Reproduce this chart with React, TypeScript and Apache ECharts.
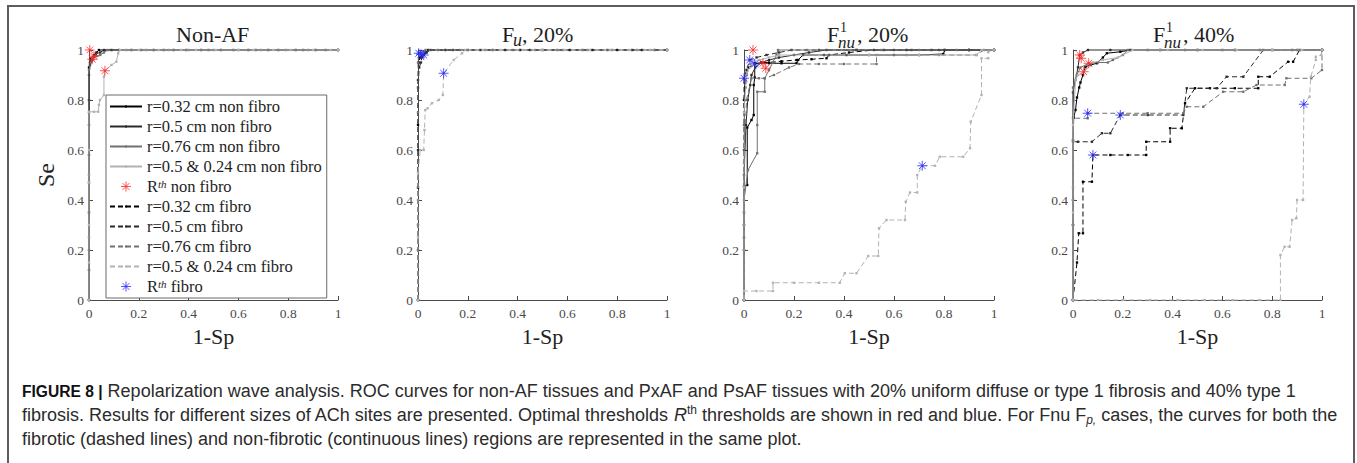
import React, { useEffect, useRef } from 'react';
import * as echarts from 'echarts';

const SERIF = "'Liberation Serif', 'Times New Roman', serif";
const SANS = "'Liberation Sans', Arial, sans-serif";

// ---------- names & colours ----------
const seriesNames = [
  'r=0.32 cm non fibro',
  'r=0.5 cm non fibro',
  'r=0.76 cm non fibro',
  'r=0.5 & 0.24 cm non fibro',
  'Rth non fibro',
  'r=0.32 cm fibro',
  'r=0.5 cm fibro',
  'r=0.76 cm fibro',
  'r=0.5 & 0.24 cm fibro',
  'Rth fibro',
];
const curveColors = ['#000000', '#2a2a2a', '#707070', '#b2b2b2'];
const axisTicks = [0, 0.2, 0.4, 0.6, 0.8, 1];

// ---------- Panel 1: Non-AF ----------
const p1_nf032 = [[0,0],[0,0.12],[0,0.35],[0,0.58],[0,0.8],[0,0.93],[0.004,0.95],[0.008,0.965],[0.016,0.97],[0.022,0.98],[0.03,0.99],[0.04,1],[0.09,1],[0.17,1],[0.26,1],[0.34,1],[0.45,1],[0.53,1],[0.64,1],[0.72,1],[0.83,1],[0.91,1],[1,1]];
const p1_nf05 = [[0,0],[0,0.2],[0,0.47],[0,0.7],[0,0.9],[0.004,0.94],[0.01,0.955],[0.013,0.963],[0.02,0.975],[0.028,0.985],[0.045,0.99],[0.06,1],[0.12,1],[0.21,1],[0.3,1],[0.39,1],[0.48,1],[0.58,1],[0.67,1],[0.76,1],[0.86,1],[0.95,1],[1,1]];
const p1_nf076 = [[0,0],[0,0.25],[0,0.5],[0,0.75],[0,0.92],[0.006,0.95],[0.015,0.965],[0.03,0.975],[0.045,0.98],[0.06,0.99],[0.075,1],[0.15,1],[0.23,1],[0.32,1],[0.4,1],[0.5,1],[0.6,1],[0.69,1],[0.79,1],[0.88,1],[1,1]];
const p1_nf0524 = [[0,0],[0,0.15],[0,0.3],[0,0.47],[0,0.6],[0,0.753],[0.02,0.753],[0.037,0.753],[0.04,0.78],[0.044,0.8],[0.06,0.82],[0.06,0.893],[0.064,0.917],[0.09,0.94],[0.11,0.953],[0.117,0.987],[0.124,1],[0.2,1],[0.28,1],[0.37,1],[0.43,1],[0.51,1],[0.6,1],[0.66,1],[0.74,1],[0.81,1],[0.9,1],[0.97,1],[1,1]];
const p1_red = [[0.003,1],[0.02,0.975],[0.013,0.963],[0.064,0.917]];

// ---------- Panel 2: F_u, 20% ----------
const p2_f032 = [[0,0],[0,0.2],[0,0.45],[0,0.7],[0,0.88],[0.003,0.95],[0.008,0.97],[0.016,0.975],[0.023,0.98],[0.03,0.99],[0.04,1],[0.11,1],[0.2,1],[0.3,1],[0.41,1],[0.5,1],[0.61,1],[0.7,1],[0.8,1],[0.9,1],[1,1]];
const p2_f05 = [[0,0],[0,0.3],[0,0.6],[0,0.85],[0.005,0.93],[0.012,0.95],[0.015,0.97],[0.02,0.98],[0.035,0.99],[0.05,1],[0.14,1],[0.25,1],[0.35,1],[0.45,1],[0.56,1],[0.66,1],[0.76,1],[0.86,1],[0.95,1],[1,1]];
const p2_f076 = [[0,0],[0,0.4],[0,0.75],[0,0.95],[0.003,0.987],[0.01,0.99],[0.02,0.995],[0.03,1],[0.08,1],[0.17,1],[0.27,1],[0.38,1],[0.47,1],[0.58,1],[0.68,1],[0.78,1],[0.88,1],[1,1]];
const p2_f0524 = [[0,0],[0,0.25],[0,0.507],[0.009,0.6],[0.023,0.6],[0.026,0.68],[0.029,0.76],[0.039,0.767],[0.056,0.787],[0.083,0.8],[0.1,0.82],[0.103,0.907],[0.143,0.96],[0.177,0.987],[0.19,1],[0.26,1],[0.33,1],[0.42,1],[0.5,1],[0.59,1],[0.69,1],[0.77,1],[0.85,1],[0.93,1],[1,1]];
const p2_blue = [[0.003,0.987],[0.012,0.983],[0.023,0.98],[0.103,0.907]];

// ---------- Panel 3: F1_nu, 20% ----------
const p3_nf032 = [[0,0],[0,0.2],[0,0.453],[0.013,0.46],[0.013,0.69],[0.03,0.72],[0.039,0.74],[0.039,0.86],[0.043,0.89],[0.043,0.947],[0.1,0.947],[0.15,0.947],[0.21,0.947],[0.216,0.96],[0.236,0.98],[0.32,0.98],[0.41,0.98],[0.5,0.98],[0.6,0.98],[0.7,0.98],[0.797,0.984],[0.804,1],[0.9,1],[1,1]];
const p3_nf05 = [[0,0],[0,0.25],[0,0.5],[0.008,0.7],[0.015,0.8],[0.025,0.86],[0.03,0.9],[0.045,0.93],[0.07,0.95],[0.1,0.96],[0.14,0.97],[0.2,0.98],[0.26,0.99],[0.33,1],[0.45,1],[0.56,1],[0.67,1],[0.78,1],[0.9,1],[1,1]];
const p3_nf076 = [[0,0],[0,0.2],[0,0.4],[0.016,0.52],[0.053,0.587],[0.053,0.7],[0.053,0.833],[0.083,0.833],[0.083,0.887],[0.1,0.92],[0.115,0.95],[0.13,0.98],[0.136,1],[0.25,1],[0.4,1],[0.55,1],[0.7,1],[0.85,1],[1,1]];
const p3_nf0524 = [[0,0],[0,0.45],[0,0.75],[0.01,0.9],[0.03,0.95],[0.06,0.96],[0.1,0.97],[0.14,0.98],[0.3,0.98],[0.5,0.98],[0.7,0.98],[0.93,0.98],[0.95,1],[1,1]];
const p3_f032 = [[0,0],[0,0.3],[0,0.6],[0,0.8],[0.005,0.85],[0.01,0.9],[0.02,0.93],[0.043,0.944],[0.07,0.95],[0.1,0.95],[0.15,0.955],[0.21,0.96],[0.27,0.963],[0.33,0.967],[0.34,0.98],[0.42,0.99],[0.52,1],[0.65,1],[0.8,1],[1,1]];
const p3_f05 = [[0,0],[0,0.35],[0,0.7],[0,0.887],[0.01,0.92],[0.023,0.96],[0.05,0.97],[0.09,0.98],[0.14,0.99],[0.19,1],[0.3,1],[0.45,1],[0.6,1],[0.75,1],[0.9,1],[1,1]];
const p3_f076 = [[0,0],[0,0.3],[0,0.55],[0.01,0.8],[0.03,0.887],[0.06,0.887],[0.083,0.887],[0.12,0.9],[0.18,0.93],[0.22,0.944],[0.3,0.944],[0.4,0.944],[0.53,0.944],[0.53,0.98],[0.65,0.98],[0.78,0.98],[0.93,0.98],[0.96,1],[1,1]];
const p3_f0524 = [[0,0],[0,0.036],[0.05,0.036],[0.116,0.036],[0.116,0.069],[0.2,0.069],[0.3,0.069],[0.383,0.069],[0.403,0.107],[0.45,0.107],[0.497,0.176],[0.537,0.176],[0.54,0.287],[0.57,0.32],[0.644,0.32],[0.647,0.393],[0.664,0.43],[0.693,0.43],[0.693,0.5],[0.713,0.537],[0.764,0.537],[0.783,0.573],[0.877,0.573],[0.904,0.607],[0.907,0.713],[0.95,0.82],[0.95,0.967],[0.977,0.967],[0.977,0.993],[1,1]];
const p3_red = [[0.036,1],[0.076,0.947],[0.087,0.927]];
const p3_blue = [[0,0.887],[0.023,0.96],[0.043,0.944],[0.713,0.537]];

// ---------- Panel 4: F1_nu, 40% ----------
const p4_nf032 = [[0,0],[0,0.3],[0,0.64],[0.003,0.73],[0.01,0.76],[0.016,0.81],[0.025,0.85],[0.03,0.87],[0.04,0.9],[0.05,0.933],[0.07,0.94],[0.096,0.947],[0.12,0.97],[0.136,0.987],[0.19,0.993],[0.23,1],[0.35,1],[0.5,1],[0.65,1],[0.8,1],[1,1]];
const p4_nf05 = [[0,0],[0,0.4],[0,0.83],[0.01,0.88],[0.02,0.93],[0.027,0.98],[0.04,0.99],[0.06,1],[0.15,1],[0.3,1],[0.45,1],[0.6,1],[0.75,1],[0.9,1],[1,1]];
const p4_nf076 = [[0,0],[0,0.45],[0,0.85],[0.015,0.9],[0.03,0.93],[0.063,0.947],[0.1,0.95],[0.14,0.95],[0.16,0.96],[0.2,0.98],[0.22,1],[0.35,1],[0.5,1],[0.65,1],[0.8,1],[1,1]];
const p4_nf0524 = [[0,0],[0,0.35],[0,0.7],[0.01,0.88],[0.02,0.9],[0.043,0.913],[0.08,0.95],[0.12,0.96],[0.18,0.97],[0.24,1],[0.38,1],[0.52,1],[0.66,1],[0.8,1],[0.92,1],[1,1]];
const p4_f032 = [[0,0],[0.016,0.15],[0.023,0.267],[0.04,0.267],[0.04,0.473],[0.076,0.473],[0.08,0.58],[0.15,0.58],[0.22,0.58],[0.294,0.58],[0.294,0.633],[0.39,0.633],[0.39,0.687],[0.437,0.687],[0.45,0.787],[0.49,0.847],[0.55,0.847],[0.65,0.847],[0.744,0.847],[0.744,0.893],[0.79,0.893],[0.864,0.953],[0.884,0.953],[0.91,1],[1,1]];
const p4_f05 = [[0,0],[0,0.3],[0,0.633],[0.02,0.633],[0.076,0.633],[0.116,0.667],[0.15,0.667],[0.19,0.74],[0.3,0.74],[0.443,0.74],[0.457,0.847],[0.577,0.847],[0.617,0.893],[0.684,0.893],[0.764,1],[0.88,1],[1,1]];
const p4_f076 = [[0,0],[0,0.4],[0,0.727],[0.059,0.727],[0.059,0.747],[0.2,0.747],[0.3,0.747],[0.443,0.747],[0.457,0.773],[0.523,0.773],[0.603,0.833],[0.684,0.833],[0.737,0.86],[0.85,0.86],[0.857,0.887],[0.957,0.887],[1,0.92],[1,1]];
const p4_f0524 = [[0,0],[0.1,0],[0.2,0],[0.31,0],[0.42,0],[0.53,0],[0.64,0],[0.75,0],[0.833,0],[0.833,0.18],[0.85,0.213],[0.87,0.213],[0.88,0.32],[0.897,0.327],[0.9,0.4],[0.924,0.4],[0.927,0.783],[0.95,0.813],[0.955,0.893],[0.975,0.96],[0.975,0.973],[0.997,0.98],[1,1]];
const p4_red = [[0.027,0.98],[0.033,0.967],[0.063,0.947],[0.043,0.913]];
const p4_blue = [[0.059,0.747],[0.19,0.74],[0.08,0.58],[0.927,0.783]];

const panels = [
  { nf: [p1_nf032, p1_nf05, p1_nf076, p1_nf0524], f: null, red: p1_red, blue: null },
  { nf: null, f: [p2_f032, p2_f05, p2_f076, p2_f0524], red: null, blue: p2_blue },
  { nf: [p3_nf032, p3_nf05, p3_nf076, p3_nf0524], f: [p3_f032, p3_f05, p3_f076, p3_f0524], red: p3_red, blue: p3_blue },
  { nf: [p4_nf032, p4_nf05, p4_nf076, p4_nf0524], f: [p4_f032, p4_f05, p4_f076, p4_f0524], red: p4_red, blue: p4_blue },
];

const gridBoxes = [
  { left: 89, width: 249 },
  { left: 418, width: 249 },
  { left: 744, width: 250 },
  { left: 1073, width: 249 },
];

const STAR = 'path://M5 0L5 10M0 5L10 5M1.6 1.6L8.4 8.4M1.6 8.4L8.4 1.6';
// small dot centred in a larger (empty) 10x10 box, so the legend icon dot stays small
const DOT = 'path://M0 0M10 10M3.7 3.7L6.3 3.7L6.3 6.3L3.7 6.3Z';

function buildOption() {
  const grid = gridBoxes.map((g) => ({ left: g.left, width: g.width, top: 50, height: 250 }));
  const axisCommon = {
    type: 'value',
    min: 0,
    max: 1,
    interval: 0.2,
    splitLine: { show: false },
    axisLine: { show: true, lineStyle: { color: '#4a4a4a', width: 1 } },
    axisTick: { show: true, inside: true, length: 4, lineStyle: { color: '#4a4a4a' } },
    axisLabel: {
      fontFamily: SERIF,
      fontSize: 13.5,
      color: '#4a4a4a',
      customValues: axisTicks,
    },
  };
  const xAxis = gridBoxes.map((_, i) => ({
    ...axisCommon,
    gridIndex: i,
    axisLabel: { ...axisCommon.axisLabel, margin: 6 },
    name: '1-Sp',
    nameLocation: 'middle',
    nameGap: 25,
    nameTextStyle: { fontFamily: SERIF, fontSize: 22, color: '#222' },
  }));
  const yAxis = gridBoxes.map((_, i) => ({
    ...axisCommon,
    gridIndex: i,
    axisLabel: { ...axisCommon.axisLabel, margin: 5 },
    name: i === 0 ? 'Se' : '',
    nameLocation: 'middle',
    nameGap: 31,
    nameTextStyle: { fontFamily: SERIF, fontSize: 24, color: '#222' },
  }));

  const series: any[] = [];
  panels.forEach((p, i) => {
    const addLines = (arr: number[][][] | null, dashed: boolean) => {
      if (!arr) return;
      arr.forEach((data, j) => {
        const c = curveColors[j];
        series.push({
          name: seriesNames[dashed ? 5 + j : j],
          type: 'line',
          xAxisIndex: i,
          yAxisIndex: i,
          data,
          clip: false,
          symbol: DOT,
          symbolSize: 9,
          showSymbol: true,
          color: c,
          itemStyle: { color: c },
          lineStyle: { color: c, width: 1, type: dashed ? [5, 3] : 'solid' },
          z: 2 + j * 0.1 + (dashed ? 0.05 : 0),
        });
      });
    };
    addLines(p.nf, false);
    addLines(p.f, true);
    const addStars = (data: number[][] | null, name: string, c: string) => {
      if (!data) return;
      series.push({
        name,
        type: 'scatter',
        xAxisIndex: i,
        yAxisIndex: i,
        data,
        clip: false,
        symbol: STAR,
        symbolSize: 10,
        symbolKeepAspect: true,
        color: c,
        itemStyle: { color: 'rgba(0,0,0,0)', borderColor: c, borderWidth: 1 },
        z: 5,
      });
    };
    addStars(p.red, seriesNames[4], '#ff2a2a');
    addStars(p.blue, seriesNames[9], '#2a2aff');
  });

  const legendData = seriesNames.map((n) =>
    n.startsWith('Rth') ? { name: n, itemStyle: { borderWidth: 1 } } : { name: n }
  );

  const titleStyle = { fontFamily: SERIF, fill: '#1e1e1e' };
  const mk = (x: number, y: number, text: string, size: number, italic = false) => ({
    type: 'text',
    x,
    y,
    silent: true,
    style: {
      ...titleStyle,
      text,
      fontSize: size,
      fontStyle: italic ? 'italic' : 'normal',
      textAlign: 'left',
      textVerticalAlign: 'middle',
      align: 'left',
      verticalAlign: 'middle',
    },
  });

  const NORM = 18;
  const capRich = {
    b: { fontFamily: SANS, fontSize: 15.6, fontWeight: 'bold', fill: '#111', color: '#111', lineHeight: 22 },
    n: { fontFamily: SANS, fontSize: NORM, fill: '#2b2b2b', color: '#2b2b2b', lineHeight: 22 },
    i: { fontFamily: SANS, fontSize: NORM, fontStyle: 'italic', fill: '#2b2b2b', color: '#2b2b2b', lineHeight: 22 },
    sup: { fontFamily: SANS, fontSize: 12, fill: '#2b2b2b', color: '#2b2b2b', lineHeight: 10, verticalAlign: 'top' },
    sub: { fontFamily: SANS, fontSize: 12, fontStyle: 'italic', fill: '#2b2b2b', color: '#2b2b2b', lineHeight: 10, verticalAlign: 'bottom' },
  };
  const capLine = (y: number, text: string) => ({
    type: 'text',
    x: 22,
    y,
    silent: true,
    style: {
      text,
      rich: capRich,
      fontFamily: SANS,
      fontSize: NORM,
      fill: '#2b2b2b',
      textAlign: 'left',
      textVerticalAlign: 'middle',
      align: 'left',
      verticalAlign: 'middle',
    },
  });

  const graphic = [
    {
      type: 'rect',
      silent: true,
      shape: { x: 8, y: 6, width: 1346, height: 490 },
      style: { fill: 'none', stroke: '#5c5c5c', lineWidth: 2 },
      z: -10,
    },
    // titles
    mk(176, 34, 'Non-AF', 22),
    mk(502, 34, 'F', 22),
    mk(513, 40, 'u', 18, true),
    mk(522, 34, ', 20%', 22),
    mk(827, 34, 'F', 22),
    mk(840, 27, '1', 14),
    mk(838, 42, 'nu', 17, true),
    mk(857, 34, ', 20%', 22),
    mk(1153, 34, 'F', 22),
    mk(1166, 27, '1', 14),
    mk(1164, 42, 'nu', 17, true),
    mk(1183, 34, ', 40%', 22),
    // caption
    capLine(391, '{b|FIGURE 8 |}{n| Repolarization wave analysis. ROC curves for non-AF tissues and PxAF and PsAF tissues with 20% uniform diffuse or type 1 fibrosis and 40% type 1}'),
    capLine(415, '{n|fibrosis. Results for different sizes of ACh sites are presented. Optimal thresholds }{i|R}{sup|th}{n| thresholds are shown in red and blue. For Fnu F}{sub|p,}{n| cases, the curves for both the}'),
    capLine(439, '{n|fibrotic (dashed lines) and non-fibrotic (continuous lines) regions are represented in the same plot.}'),
  ];

  return {
    animation: false,
    backgroundColor: '#ffffff',
    grid,
    xAxis,
    yAxis,
    series,
    graphic,
    legend: {
      data: legendData,
      orient: 'vertical',
      left: 106,
      top: 95,
      padding: [3, 5, 3, 3],
      itemGap: 3,
      itemWidth: 32,
      itemHeight: 10,
      selectedMode: false,
      backgroundColor: '#ffffff',
      borderColor: '#6a6a6a',
      borderWidth: 1,
      borderRadius: 0,
      z: 10,
      formatter: (name: string) =>
        name.startsWith('Rth') ? `{n|R}{s|th}{n|${name.slice(3)}}` : name,
      textStyle: {
        fontFamily: SERIF,
        fontSize: 16.5,
        color: '#1e1e1e',
        lineHeight: 16,
        rich: {
          n: { fontFamily: SERIF, fontSize: 16.5, color: '#1e1e1e', lineHeight: 16 },
          s: { fontFamily: SERIF, fontSize: 11, fontStyle: 'italic', color: '#1e1e1e', lineHeight: 8, verticalAlign: 'top' },
        },
      },
    },
  };
}

export default function App() {
  const ref = useRef<HTMLDivElement>(null);
  useEffect(() => {
    if (!ref.current) return;
    const chart = echarts.init(ref.current, null, { renderer: 'svg' });
    chart.setOption(buildOption() as any);
    return () => {
      chart.dispose();
    };
  }, []);
  return (
    <div
      ref={ref}
      style={{ position: 'absolute', left: 0, top: 0, width: 1357, height: 463, background: '#fff' }}
    />
  );
}
